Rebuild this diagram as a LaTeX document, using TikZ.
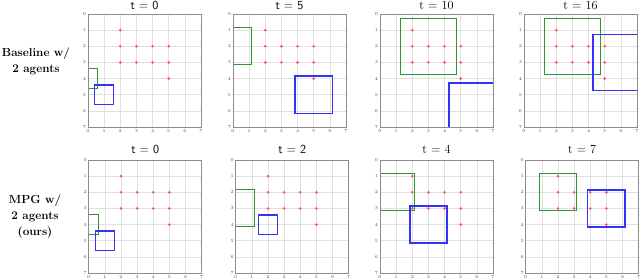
\documentclass[tikz,border=0pt]{standalone}
\begin{document}
\begin{tikzpicture}[x=1pt, y=-1pt,
  gridln/.style={black!12, line width=0.6pt},
  frame/.style={black!45, line width=0.9pt},
  ticklbl/.style={font=\fontsize{4.5}{5}\selectfont, black!70, inner sep=0.6pt},
  target/.style={fill=red!70!white},
  fovG/.style={draw=cGreen, line width=1pt},
  fovB/.style={draw=cBlue, line width=1.3pt},
  rowlbl/.style={font=\bfseries\fontsize{11.7}{16}\selectfont, align=center},
  ttl/.style={inner sep=0pt}]

\definecolor{cGreen}{RGB}{45,150,45}
\definecolor{cBlue}{RGB}{50,50,250}

\useasboundingbox (0,0) rectangle (640,280);

%% Geometry: 1pt = 1px, y grows downwards; one grid cell is \u.
\def\u{16.14pt}

%% ---------- row labels ----------
\node[rowlbl] (lblBase) at (36,61) {Baseline w/\\2 agents};
\node[rowlbl] (lblMPG) at (35,216.5) {MPG w/\\2 agents\\(ours)};

%% ---------- one panel per time step ----------
%% left/top, time, title font, title offset, green centre/half, blue centre/half
\foreach \px/\py/\ti/\tf/\ty/\gx/\gy/\gh/\bx/\by/\bh in {
    88/14/0/\sffamily/-0.5/0/4/0.6/1/5/0.6,
    233/14/5/\sffamily/-0.5/0/2/1.15/5/5/1.16,
    380/14/10/\rmfamily/-0.5/3/2/1.73/6/6/1.73,
    524/14/16/\rmfamily/-0.5/3/2/1.73/6/3/1.73,
    88.7/160/0/\sffamily/-0.65/0/4/0.6/1/5/0.6,
    235.7/160/2/\sffamily/-0.65/0/3/1.15/2/4/0.6,
    380/160/4/\rmfamily/-0.65/1/2/1.15/3/4/1.15,
    525.7/160/7/\rmfamily/-0.65/2/2/1.15/5/3/1.15} {
  \begin{scope}[xshift=\px pt, yshift=-\py pt, x=\u, y=-\u]
    \foreach \k in {1,...,6} {
      \draw[gridln] (\k,0) -- (\k,7);
      \draw[gridln] (0,\k) -- (7,\k);
    }
    \foreach \k in {0,...,7} {
      \node[ticklbl, anchor=east] at (-0.08,\k) {\k};
      \node[ticklbl, anchor=north] at (\k,7.1) {\k};
    }
    %% sensing fields of the two agents
    \begin{scope}
      \clip (0,0) rectangle (7,7);
      \draw[fovG] ({\gx-\gh},{\gy-\gh}) rectangle ({\gx+\gh},{\gy+\gh});
      \draw[fovB] ({\bx-\bh},{\by-\bh}) rectangle ({\bx+\bh},{\by+\bh});
    \end{scope}
    %% targets
    \foreach \dx/\dy in {2/1, 2/2, 3/2, 4/2, 5/2, 2/3, 3/3, 4/3, 5/3, 5/4}
      \fill[target] (\dx,\dy) circle (1.4pt);
    \draw[frame] (0,0) rectangle (7,7);
    \node[ttl, font=\tf\fontsize{12.3}{14}\selectfont] (ttl\ti) at (3.5,\ty) {t = \ti};
  \end{scope}
}

\end{tikzpicture}
\end{document}
